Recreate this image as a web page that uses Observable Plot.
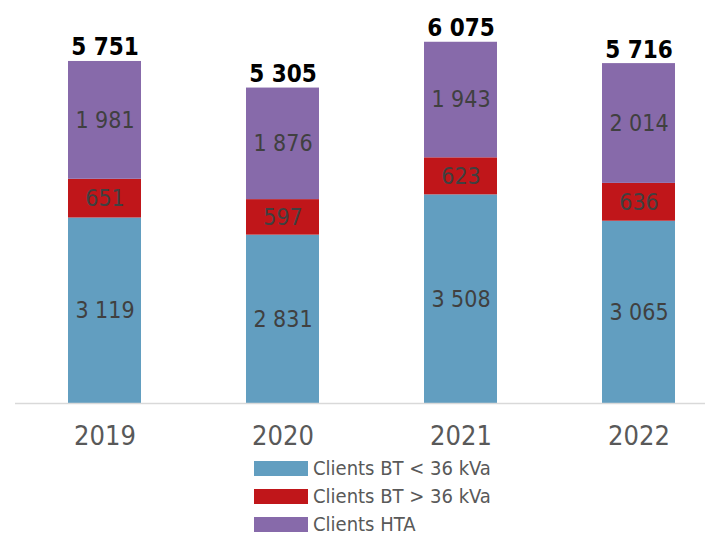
<!DOCTYPE html>
<html><head><meta charset="utf-8">
<script src="https://cdn.jsdelivr.net/npm/d3@7"></script>
<script src="https://cdn.jsdelivr.net/npm/@observablehq/plot@0.6"></script>
<style>
body{margin:0;background:#fff;}
#wrap{position:relative;width:707px;height:537px;}
#legend{position:absolute;left:254px;top:454px;font-family:"Liberation Sans Narrow","DejaVu Sans Condensed",sans-serif;font-size:20px;line-height:20px;color:#595959;}
.item{display:flex;align-items:center;height:28px;white-space:nowrap;}
.sw{width:54px;height:15px;margin-right:5px;flex:none;}
</style>
</head><body>
<div id="wrap"><div id="chart"></div><div id="legend"></div></div>
<script>
const years = ["2019", "2020", "2021", "2022"];
const series = ["Clients BT < 36 kVa", "Clients BT > 36 kVa", "Clients HTA"];
const colors = ["#629ec0", "#c0161a", "#876aaa"];
const btLow = [3119, 2831, 3508, 3065];
const btHigh = [651, 597, 623, 636];
const hta = [1981, 1876, 1943, 2014];
const totals = [5751, 5305, 6075, 5716];

const seriesValues = [btLow, btHigh, hta];
const data = [];
series.forEach((s, si) => years.forEach((y, i) => data.push({year: y, series: s, value: seriesValues[si][i]})));
const totalData = years.map((y, i) => ({year: y, total: totals[i]}));

const fmt = n => String(n).replace(/\B(?=(\d{3})+(?!\d))/g, " ");

const chart = Plot.plot({
  width: 707,
  height: 454,
  marginLeft: 15,
  marginRight: 2,
  marginTop: 0,
  marginBottom: 51,
  style: {fontFamily: '"Liberation Sans Narrow","DejaVu Sans Condensed",sans-serif', background: "#fff"},
  x: {type: "band", domain: years, range: [67.5, 676], paddingInner: 0.591, paddingOuter: 0, label: null},
  y: {domain: [0, 6075], range: [403, 41.7], axis: null},
  color: {domain: series, range: colors},
  marks: [
    Plot.barY(data, Plot.stackY({x: "year", y: "value", fill: "series", order: series})),
    Plot.text(data, Plot.stackY({x: "year", y: "value", z: "series", order: series, text: d => fmt(d.value), fill: "#404040", fontSize: 23})),
    Plot.text(totalData, {x: "year", y: "total", text: d => fmt(d.total), dy: -6, lineAnchor: "bottom", fontSize: 24, fontWeight: "bold", fill: "#000", fontFamily: '"DejaVu Sans Condensed","DejaVu Sans",sans-serif'}),
    Plot.ruleY([0], {stroke: "#d9d9d9", strokeWidth: 1.5}),
    Plot.axisX({tickSize: 0, tickPadding: 22, fontSize: 27, color: "#595959", label: null})
  ]
});
document.getElementById("chart").appendChild(chart);

const legend = document.getElementById("legend");
series.forEach((s, i) => {
  const item = document.createElement("div");
  item.className = "item";
  const sw = document.createElement("span");
  sw.className = "sw";
  sw.style.background = colors[i];
  const t = document.createElement("span");
  t.textContent = s;
  item.appendChild(sw); item.appendChild(t);
  legend.appendChild(item);
});
</script>
</body></html>
